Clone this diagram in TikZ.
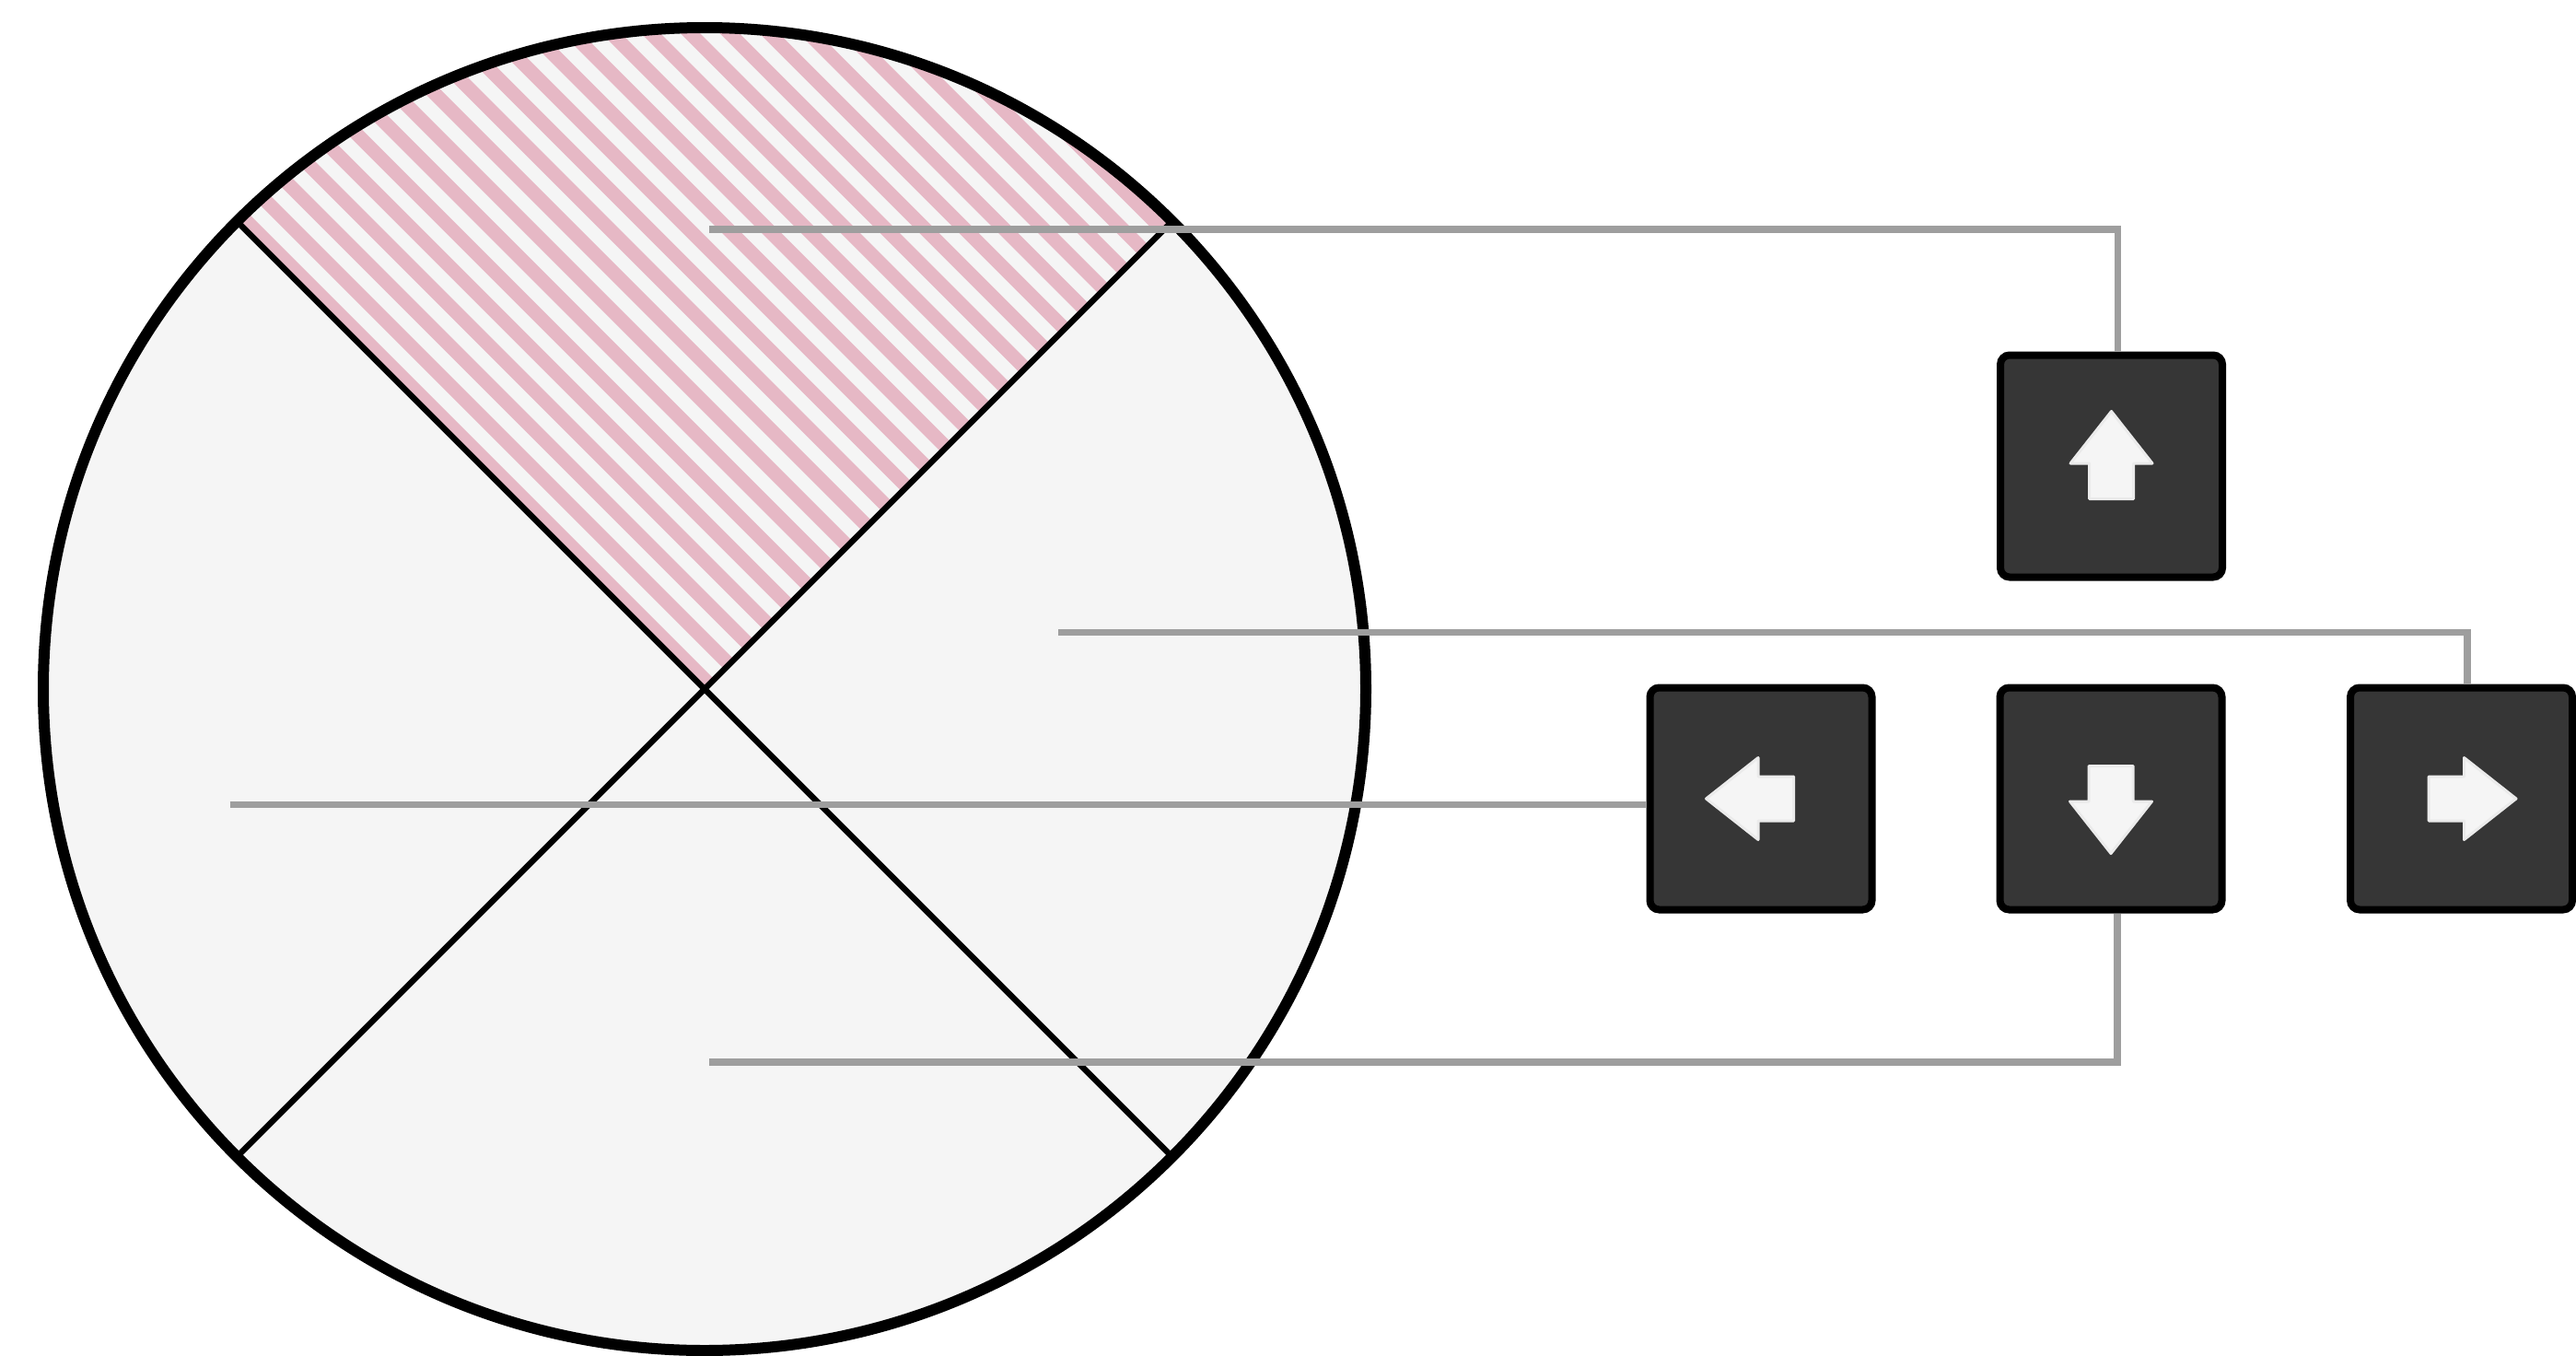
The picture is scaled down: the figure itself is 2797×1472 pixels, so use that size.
\documentclass[tikz,border=0pt]{standalone}
\usetikzlibrary{calc}
\definecolor{dialfill}{HTML}{F5F5F5}
\definecolor{stripepink}{RGB}{230,184,197}
\definecolor{conngray}{HTML}{9E9E9E}
\definecolor{keyfill}{HTML}{363636}
\definecolor{arrowfill}{HTML}{F5F5F5}
\definecolor{arrowedge}{HTML}{EBEBEB}
\begin{document}
\begin{tikzpicture}[x=1pt,y=-1pt,
 dial/.style={circle,inner sep=0pt,outer sep=0pt,minimum size=1436pt,fill=dialfill},
 divider/.style={draw=black,line width=6.5pt},
 rim/.style={draw=black,line width=12pt},
 stripe/.style={draw=stripepink,line width=15pt},
 conn/.style={draw=conngray,line width=7.5pt},
 keybox/.style={rectangle,draw=black,line width=8pt,fill=keyfill,rounded corners=10pt,minimum width=241pt,minimum height=241pt,inner sep=0pt},
 arrowglyph/.style={fill=arrowfill,draw=arrowedge,line width=3pt,line join=round},
 keyarrow/.pic={\path[arrowglyph] (0,-59.5) -- (44.5,-3) -- (24,-3) -- (24,35.5) -- (-24,35.5) -- (-24,-3) -- (-44.5,-3) -- cycle;}
]
\useasboundingbox (0,0) rectangle (2797,1472);

% dial
\node[dial] (dial) at (765,748) {};
\begin{scope}
  \clip (dial.center) circle[radius=718pt];
  \clip (dial.center) -- ++(-800,-800) -- ++(1600,0) -- cycle;
  \foreach \k in {0,...,25}{
    \pgfmathsetmacro\dd{7.5+\k*30.3}
    \draw[stripe] ({765+(\dd-1000)*0.70711},{748-(\dd+1000)*0.70711}) -- ({765+(\dd+1000)*0.70711},{748-(\dd-1000)*0.70711});
  }
\end{scope}
\draw[divider] (dial.135) -- (dial.-45);
\draw[divider] (dial.45) -- (dial.-135);
\draw[rim] (dial.center) circle[radius=718pt];

% keys
\node[keybox] (up) at (2292.5,506) {};
\node[keybox] (left) at (1912,867) {};
\node[keybox] (down) at (2292,867) {};
\node[keybox] (right) at (2672.5,867) {};
\pic at (up.center) {keyarrow};
\pic[rotate=90] at (left.center) {keyarrow};
\pic[rotate=180] at (down.center) {keyarrow};
\pic[rotate=-90] at (right.center) {keyarrow};

% connectors
\coordinate (s1) at (770,249);
\coordinate (s2) at (1149,686.5);
\coordinate (s3) at (249.5,873.5);
\coordinate (s4) at (770,1153);
\draw[conn] (s1) -| ([xshift=7pt]up.north);
\draw[conn] (s2) -| ([xshift=6.5pt]right.north);
\draw[conn] (s3) -- (s3 -| left.west);
\draw[conn] (s4) -| ([xshift=7pt]down.south);
\end{tikzpicture}
\end{document}
